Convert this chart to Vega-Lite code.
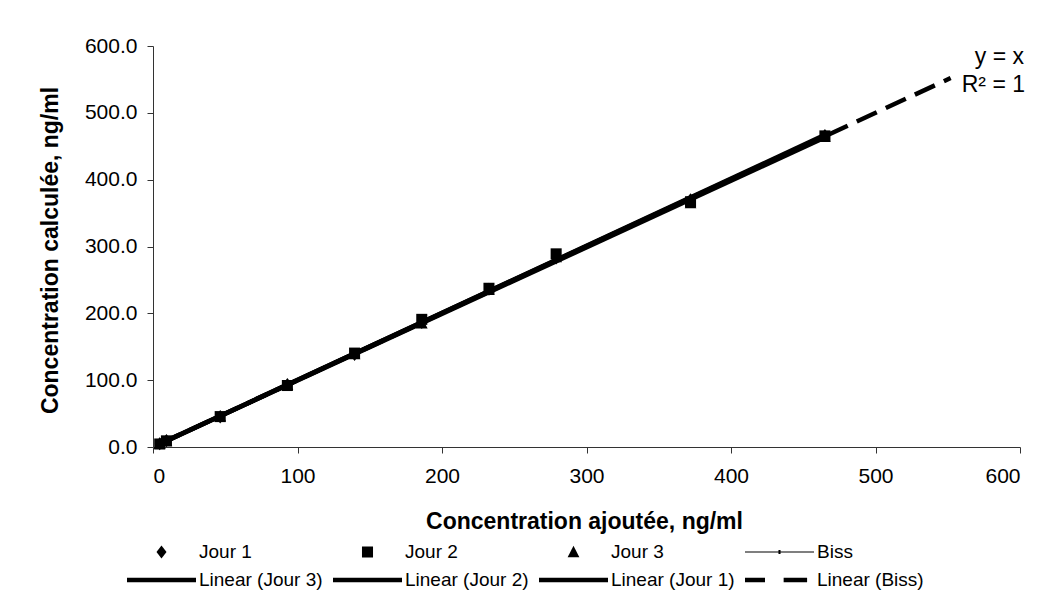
{
  "$schema": "https://vega.github.io/schema/vega-lite/v6.json",
  "width": 867,
  "height": 401,
  "autosize": {"type": "none"},
  "padding": {"left": 153, "top": 46, "right": 21, "bottom": 154},
  "background": "white",
  "config": {
    "view": {"stroke": null},
    "font": "Liberation Sans",
    "axis": {
      "grid": false,
      "domainColor": "#333333",
      "tickColor": "#333333",
      "labelColor": "black",
      "titleColor": "black",
      "labelFont": "Liberation Sans",
      "titleFont": "Liberation Sans",
      "labelFontSize": 21,
      "titleFontSize": 23,
      "titleFontWeight": "bold",
      "tickSize": 6
    }
  },
  "datasets": {
    "mesures": [
      {"serie": "Jour 1", "ajoutee": 4.65, "calculee": 4.8},
      {"serie": "Jour 1", "ajoutee": 9.3, "calculee": 9.6},
      {"serie": "Jour 1", "ajoutee": 46.5, "calculee": 45.0},
      {"serie": "Jour 1", "ajoutee": 93, "calculee": 93.5},
      {"serie": "Jour 1", "ajoutee": 139.5, "calculee": 138.5},
      {"serie": "Jour 1", "ajoutee": 186, "calculee": 186.5},
      {"serie": "Jour 1", "ajoutee": 232.5, "calculee": 236.0},
      {"serie": "Jour 1", "ajoutee": 279, "calculee": 283.0},
      {"serie": "Jour 1", "ajoutee": 372, "calculee": 370.0},
      {"serie": "Jour 1", "ajoutee": 465, "calculee": 466.0},
      {"serie": "Jour 2", "ajoutee": 4.65, "calculee": 4.5},
      {"serie": "Jour 2", "ajoutee": 9.3, "calculee": 9.2},
      {"serie": "Jour 2", "ajoutee": 46.5, "calculee": 45.5},
      {"serie": "Jour 2", "ajoutee": 93, "calculee": 92.0},
      {"serie": "Jour 2", "ajoutee": 139.5, "calculee": 140.5},
      {"serie": "Jour 2", "ajoutee": 186, "calculee": 191.0},
      {"serie": "Jour 2", "ajoutee": 232.5, "calculee": 237.5},
      {"serie": "Jour 2", "ajoutee": 279, "calculee": 289.0},
      {"serie": "Jour 2", "ajoutee": 372, "calculee": 367.0},
      {"serie": "Jour 2", "ajoutee": 465, "calculee": 465.5},
      {"serie": "Jour 3", "ajoutee": 4.65, "calculee": 4.9},
      {"serie": "Jour 3", "ajoutee": 9.3, "calculee": 9.0},
      {"serie": "Jour 3", "ajoutee": 46.5, "calculee": 46.0},
      {"serie": "Jour 3", "ajoutee": 93, "calculee": 93.0},
      {"serie": "Jour 3", "ajoutee": 139.5, "calculee": 139.0},
      {"serie": "Jour 3", "ajoutee": 186, "calculee": 185.0},
      {"serie": "Jour 3", "ajoutee": 232.5, "calculee": 235.0},
      {"serie": "Jour 3", "ajoutee": 279, "calculee": 284.0},
      {"serie": "Jour 3", "ajoutee": 372, "calculee": 365.0},
      {"serie": "Jour 3", "ajoutee": 465, "calculee": 464.0}
    ],
    "biss": [
      {"serie": "Biss", "ajoutee": 4.65, "calculee": 4.65},
      {"serie": "Biss", "ajoutee": 9.3, "calculee": 9.3},
      {"serie": "Biss", "ajoutee": 46.5, "calculee": 46.5},
      {"serie": "Biss", "ajoutee": 93, "calculee": 93},
      {"serie": "Biss", "ajoutee": 139.5, "calculee": 139.5},
      {"serie": "Biss", "ajoutee": 186, "calculee": 186},
      {"serie": "Biss", "ajoutee": 232.5, "calculee": 232.5},
      {"serie": "Biss", "ajoutee": 279, "calculee": 279},
      {"serie": "Biss", "ajoutee": 372, "calculee": 372},
      {"serie": "Biss", "ajoutee": 465, "calculee": 465}
    ],
    "tendances": [
      {"serie": "Linear (Jour 1)", "ajoutee": 4.65, "calculee": 4.9},
      {"serie": "Linear (Jour 1)", "ajoutee": 465, "calculee": 465.6},
      {"serie": "Linear (Jour 2)", "ajoutee": 4.65, "calculee": 4.2},
      {"serie": "Linear (Jour 2)", "ajoutee": 465, "calculee": 467.0},
      {"serie": "Linear (Jour 3)", "ajoutee": 4.65, "calculee": 4.5},
      {"serie": "Linear (Jour 3)", "ajoutee": 465, "calculee": 463.0}
    ],
    "tendanceBiss": [
      {"serie": "Linear (Biss)", "ajoutee": 4.65, "calculee": 4.65},
      {"serie": "Linear (Biss)", "ajoutee": 552, "calculee": 552}
    ]
  },
  "layer": [
    {
      "encoding": {
        "x": {
          "field": "ajoutee",
          "type": "quantitative",
          "scale": {"domain": [0, 600], "nice": false},
          "axis": {
            "values": [0, 100, 200, 300, 400, 500, 600],
            "format": "d",
            "labelPadding": 12,
            "title": "Concentration ajoutée, ng/ml",
            "titleX": 431,
            "titleY": 74,
            "titleBaseline": "middle"
          }
        },
        "y": {
          "field": "calculee",
          "type": "quantitative",
          "scale": {"domain": [0, 600], "nice": false},
          "axis": {
            "values": [0, 100, 200, 300, 400, 500, 600],
            "format": ".1f",
            "labelPadding": 10,
            "title": "Concentration calculée, ng/ml",
            "titleX": -103,
            "titleY": 204,
            "titleAngle": -90,
            "titleAlign": "center",
            "titleBaseline": "middle"
          }
        }
      },
      "layer": [
        {
          "data": {"name": "biss"},
          "mark": {"type": "line", "color": "black", "strokeWidth": 1}
        },
        {
          "data": {"name": "tendanceBiss"},
          "mark": {"type": "line", "color": "black", "strokeWidth": 4.5, "strokeDash": [22, 10]}
        },
        {
          "data": {"name": "tendances"},
          "mark": {"type": "line", "color": "black", "strokeWidth": 4.5},
          "encoding": {"detail": {"field": "serie"}}
        },
        {
          "data": {"name": "mesures"},
          "mark": {"type": "point", "filled": true, "color": "black", "opacity": 1, "size": 4761, "strokeWidth": 0},
          "encoding": {
            "shape": {
              "field": "serie",
              "type": "nominal",
              "scale": {
                "domain": ["Jour 1", "Jour 2", "Jour 3", "Biss", "Linear (Jour 3)", "Linear (Jour 2)", "Linear (Jour 1)", "Linear (Biss)"],
                "range": [
                  "M-1,0M1,0M0,-0.19L0.145,0L0,0.19L-0.145,0Z",
                  "M-1,0M1,0M-0.16,-0.16H0.16V0.16H-0.16Z",
                  "M-1,0M1,0M0,-0.18L0.17,0.15H-0.17Z",
                  "M-1,-0.016H1V0.016H-1ZM-0.03,-0.06H0.03V0.06H-0.03Z",
                  "M-1,-0.065H1V0.065H-1Z",
                  "M-1,-0.065H1V0.065H-1Z",
                  "M-1,-0.065H1V0.065H-1Z",
                  "M-1,-0.065H-0.42V0.065H-1ZM0.12,-0.065H0.8V0.065H0.12ZM1,0"
                ]
              },
              "legend": {
                "title": null,
                "orient": "none",
                "legendX": -26,
                "legendY": 495,
                "direction": "horizontal",
                "columns": 4,
                "symbolSize": 4761,
                "clipHeight": 22,
                "symbolFillColor": "black",
                "symbolStrokeWidth": 0,
                "symbolOpacity": 1,
                "labelFont": "Liberation Sans",
                "labelFontSize": 19,
                "labelColor": "black",
                "labelOffset": 3,
                "columnPadding": 10,
                "rowPadding": 6
              }
            }
          }
        }
      ]
    },
    {
      "data": {"values": [{}]},
      "mark": {"type": "text", "align": "right", "baseline": "alphabetic", "fontSize": 23, "font": "Liberation Sans", "color": "black", "dx": 4},
      "encoding": {
        "x": {"datum": 600, "type": "quantitative"},
        "y": {"datum": 573, "type": "quantitative"},
        "text": {"value": "y = x"}
      }
    },
    {
      "data": {"values": [{}]},
      "mark": {"type": "text", "align": "right", "baseline": "alphabetic", "fontSize": 23, "font": "Liberation Sans", "color": "black", "dx": 5},
      "encoding": {
        "x": {"datum": 600, "type": "quantitative"},
        "y": {"datum": 531, "type": "quantitative"},
        "text": {"value": "R² = 1"}
      }
    }
  ]
}
